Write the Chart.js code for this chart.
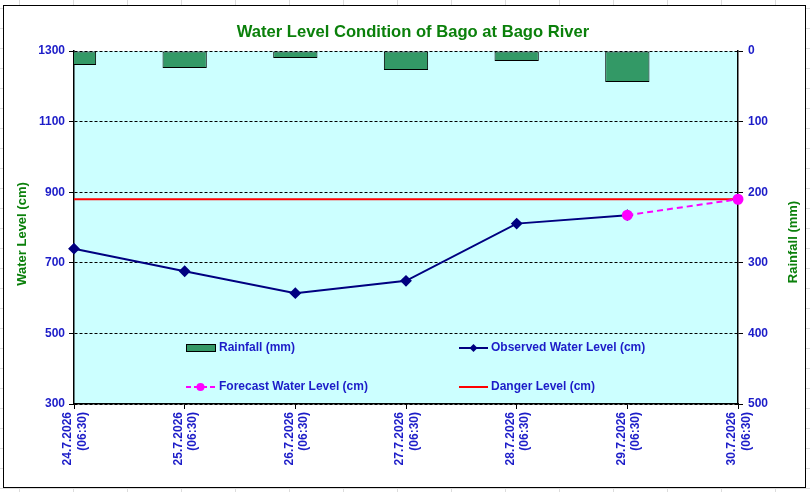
<!DOCTYPE html>
<html>
<head>
<meta charset="utf-8">
<script src="https://cdn.jsdelivr.net/npm/chart.js@4/dist/chart.umd.min.js"></script>
<style>
  html, body { margin: 0; padding: 0; background: #fff; }
  #wrap { width: 810px; height: 492px; position: relative; }
</style>
</head>
<body>
<div id="wrap"><canvas id="levelChart"></canvas></div>
<script>
// datos del gráfico
const categories = [
    ['24.7.2026', '(06:30)'], ['25.7.2026', '(06:30)'], ['26.7.2026', '(06:30)'],
    ['27.7.2026', '(06:30)'], ['28.7.2026', '(06:30)'], ['29.7.2026', '(06:30)'],
    ['30.7.2026', '(06:30)']
];
const rainfall = [20, 24, 10, 27, 14, 44, null];
const observedLevel = [740, 676, 614, 649, 811, 835, null];
const forecastLevel = [null, null, null, null, null, 835, 880];
const dangerLevel = [880, 880, 880, 880, 880, 880, 880];
const levelTicks = [300, 500, 700, 900, 1100, 1300];
const rainTicks = [0, 100, 200, 300, 400, 500];

const BLUE = '#1c1cc8';
const GREEN = '#0b800b';
const FONT = "'Liberation Sans', Arial, sans-serif";

// fondo, marco, título y leyenda dibujados a mano
const decor = {
    id: 'decor',
    beforeDraw(chart) {
        const ctx = chart.ctx;
        const a = chart.chartArea;
        ctx.save();
        ctx.fillStyle = '#fff';
        ctx.fillRect(0, 0, chart.width, chart.height);
        // rejilla de la hoja detrás del marco
        ctx.strokeStyle = '#dcdcdc';
        ctx.lineWidth = 1;
        for (let x = 19.5; x < chart.width; x += 54) {
            ctx.beginPath(); ctx.moveTo(x, 0); ctx.lineTo(x, chart.height); ctx.stroke();
        }
        for (let y = 8.5; y < chart.height; y += 20) {
            ctx.beginPath(); ctx.moveTo(0, y); ctx.lineTo(chart.width, y); ctx.stroke();
        }
        ctx.fillStyle = '#fff';
        ctx.fillRect(3, 5, 803, 483);
        ctx.strokeStyle = '#000';
        ctx.strokeRect(3.5, 5.5, 802, 482);
        // área del gráfico
        ctx.fillStyle = '#ccffff';
        ctx.fillRect(a.left, a.top, a.right - a.left, a.bottom - a.top);
        ctx.restore();
    },
    afterDraw(chart) {
        const ctx = chart.ctx;
        ctx.save();
        ctx.fillStyle = GREEN;
        ctx.font = 'bold 16.6px ' + FONT;
        ctx.textAlign = 'center';
        ctx.textBaseline = 'middle';
        ctx.fillText('Water Level Condition of Bago at Bago River', 413, 32);

        ctx.font = 'bold 13px ' + FONT;
        ctx.save();
        ctx.translate(22, 234);
        ctx.rotate(-Math.PI / 2);
        ctx.fillText('Water Level (cm)', 0, 0);
        ctx.restore();
        ctx.save();
        ctx.translate(793, 242);
        ctx.rotate(-Math.PI / 2);
        ctx.fillText('Rainfall (mm)', 0, 0);
        ctx.restore();

        // leyenda dentro del área
        const ds = chart.data.datasets;
        ctx.font = 'bold 12px ' + FONT;
        ctx.textAlign = 'left';

        ctx.fillStyle = ds[0].backgroundColor;
        ctx.fillRect(186, 344, 29, 7);
        ctx.strokeStyle = '#000';
        ctx.lineWidth = 1;
        ctx.strokeRect(186.5, 344.5, 29, 7);
        ctx.fillStyle = BLUE;
        ctx.fillText('Rainfall (mm)', 219, 348);

        ctx.strokeStyle = ds[1].borderColor;
        ctx.lineWidth = 2;
        ctx.beginPath(); ctx.moveTo(459, 348); ctx.lineTo(488, 348); ctx.stroke();
        ctx.fillStyle = ds[1].borderColor;
        ctx.beginPath();
        ctx.moveTo(473.5, 344); ctx.lineTo(477.5, 348); ctx.lineTo(473.5, 352); ctx.lineTo(469.5, 348);
        ctx.closePath(); ctx.fill();
        ctx.fillStyle = BLUE;
        ctx.fillText('Observed Water Level (cm)', 491, 348);

        ctx.strokeStyle = ds[2].borderColor;
        ctx.setLineDash([5, 3]);
        ctx.beginPath(); ctx.moveTo(186, 387); ctx.lineTo(215, 387); ctx.stroke();
        ctx.setLineDash([]);
        ctx.fillStyle = ds[2].borderColor;
        ctx.beginPath(); ctx.arc(200.5, 387, 4, 0, Math.PI * 2); ctx.fill();
        ctx.fillStyle = BLUE;
        ctx.fillText('Forecast Water Level (cm)', 219, 387);

        ctx.strokeStyle = ds[3].borderColor;
        ctx.beginPath(); ctx.moveTo(459, 387); ctx.lineTo(488, 387); ctx.stroke();
        ctx.fillStyle = BLUE;
        ctx.fillText('Danger Level (cm)', 491, 387);
        ctx.restore();
    }
};

const ctx = document.getElementById('levelChart').getContext('2d');
new Chart(ctx, {
    data: {
        labels: categories,
        datasets: [
            {
                type: 'bar',
                label: 'Rainfall (mm)',
                data: rainfall,
                yAxisID: 'y1',
                backgroundColor: '#339966',
                borderColor: '#000',
                borderWidth: 1,
                borderSkipped: false,
                barPercentage: 1,
                categoryPercentage: 0.4,
                order: 4
            },
            {
                type: 'line',
                label: 'Observed Water Level (cm)',
                data: observedLevel,
                yAxisID: 'y',
                borderColor: '#000080',
                backgroundColor: '#000080',
                borderWidth: 2,
                pointStyle: 'rectRot',
                pointRadius: 4.5,
                tension: 0,
                order: 2
            },
            {
                type: 'line',
                label: 'Forecast Water Level (cm)',
                data: forecastLevel,
                yAxisID: 'y',
                borderColor: '#ff00ff',
                backgroundColor: '#ff00ff',
                borderWidth: 2,
                borderDash: [6, 4],
                pointStyle: 'circle',
                pointRadius: 4.5,
                order: 1
            },
            {
                type: 'line',
                label: 'Danger Level (cm)',
                data: dangerLevel,
                yAxisID: 'y',
                borderColor: '#ff0000',
                borderWidth: 2,
                pointRadius: 0,
                order: 3
            }
        ]
    },
    options: {
        responsive: true,
        maintainAspectRatio: false,
        animation: false,
        layout: { padding: { top: 51, left: 0, right: 0, bottom: 0 } },
        plugins: {
            legend: { display: false },
            title: { display: false },
            tooltip: { enabled: false }
        },
        scales: {
            x: {
                offset: false,
                grid: { drawOnChartArea: false, offset: false, color: '#000', tickLength: 5 },
                border: { color: '#000', width: 1.5 },
                ticks: {
                    color: BLUE,
                    font: { family: FONT, size: 12, weight: 'bold' },
                    minRotation: 90,
                    maxRotation: 90,
                    autoSkip: false,
                    padding: 3,
                    labelOffset: -6
                },
                afterFit(scale) { scale.height = 88; }
            },
            y: {
                position: 'left',
                min: 300,
                max: 1300,
                afterBuildTicks(scale) { scale.ticks = levelTicks.map(v => ({ value: v })); },
                grid: { color: '#000', tickBorderDash: [], tickLength: 5 },
                border: { color: '#000', width: 1.5, dash: [3, 2] },
                ticks: {
                    color: BLUE,
                    font: { family: FONT, size: 12, weight: 'bold' },
                    padding: 4,
                    callback: v => String(v)
                },
                afterFit(scale) { scale.width = 74; }
            },
            y1: {
                position: 'right',
                reverse: true,
                min: 0,
                max: 500,
                afterBuildTicks(scale) { scale.ticks = rainTicks.map(v => ({ value: v })); },
                grid: { drawOnChartArea: false, color: '#000', tickLength: 5 },
                border: { color: '#000', width: 1.5 },
                ticks: {
                    color: BLUE,
                    font: { family: FONT, size: 12, weight: 'bold' },
                    padding: 5,
                    callback: v => String(v)
                },
                afterFit(scale) { scale.width = 72; }
            }
        }
    },
    plugins: [decor]
});
</script>
</body>
</html>
